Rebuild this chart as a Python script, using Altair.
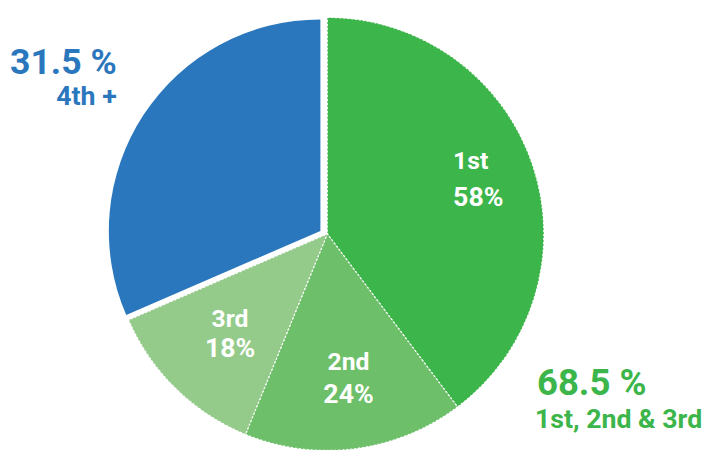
import math
import altair as alt
import pandas as pd

# ---- data ----
segments = ["1st", "2nd", "3rd", "4th +"]
top3_total = 68.5          # % of all (1st, 2nd & 3rd)
rest_total = 31.5          # % of all (4th +)
top3_pct = [58, 24, 18]    # split of the 68.5 % group
ann_values = [rest_total, top3_total]
ann_sub = ["4th +", "1st, 2nd & 3rd"]

share = [top3_total * p / 100 for p in top3_pct] + [rest_total]
df = pd.DataFrame({
    "segment": segments,
    "share": share,
    "group": ["top3", "top3", "top3", "rest"],
    "order": [0, 1, 2, 3],
    "pct": [f"{p}%" for p in top3_pct] + [""],
})

# ---- style ----
colors = ["#3cb54a", "#6dbf69", "#94cb8b", "#2b77bd"]
BLUE, GREEN = "#2b77bd", "#3cb54a"
FONT = "Roboto"
GC = (323, 226)   # centre of green part
BC = (316, 223)   # centre of exploded blue slice

theta_scale = alt.Scale(domain=[0, 100], range=[0, 2 * math.pi])
color = alt.Color("segment:N", scale=alt.Scale(domain=segments, range=colors), legend=None)

base = (
    alt.Chart(df)
    .transform_window(s1="sum(share)", sort=[alt.SortField("order")], frame=[None, 0])
    .transform_calculate(s0="datum.s1 - datum.share", mid="datum.s1 - datum.share / 2")
)

green = base.transform_filter("datum.group == 'top3'").mark_arc(
    radius=219, stroke="white", strokeWidth=1.2, strokeDash=[2, 2]
).encode(
    theta=alt.Theta("s0:Q", scale=theta_scale, stack=None),
    theta2="s1:Q",
    color=color,
    x=alt.value(GC[0]), y=alt.value(GC[1]),
)

blue = base.transform_filter("datum.group == 'rest'").mark_arc(radius=214).encode(
    theta=alt.Theta("s0:Q", scale=theta_scale, stack=None),
    theta2="s1:Q",
    color=color,
    x=alt.value(BC[0]), y=alt.value(BC[1]),
)

# inner label layout: radius, dx, dy name, dy pct, align
layout = {
    "1st": (131, 3, -24, 13, "left"),
    "2nd": (136, 4, 3, 36, "center"),
    "3rd": (142, 1, -7, 23, "center"),
}
labels = []
for seg, (r, dx, dyn, dyp, al) in layout.items():
    for field, dy, fs in (("segment", dyn, 25), ("pct", dyp, 27)):
        labels.append(
            base.transform_filter(f"datum.segment == '{seg}'").mark_text(
                radius=r, dx=dx, dy=dy, align=al, baseline="alphabetic",
                font=FONT, fontSize=fs, fontWeight="bold", color="white",
            ).encode(
                theta=alt.Theta("mid:Q", scale=theta_scale, stack=None),
                text=f"{field}:N",
                x=alt.value(GC[0]), y=alt.value(GC[1]),
            )
        )

ann = pd.DataFrame({"big": [f"{v} %" for v in ann_values], "sub": ann_sub, "i": [0, 1]})
annc = alt.Chart(ann)
ann_layers = [
    annc.transform_filter("datum.i == 0").mark_text(
        align="right", baseline="alphabetic", font=FONT, fontSize=36, fontWeight="bold", color=BLUE
    ).encode(text="big:N", x=alt.value(110), y=alt.value(64)),
    annc.transform_filter("datum.i == 0").mark_text(
        align="right", baseline="alphabetic", font=FONT, fontSize=27, fontWeight="bold", color=BLUE
    ).encode(text="sub:N", x=alt.value(110), y=alt.value(96)),
    annc.transform_filter("datum.i == 1").mark_text(
        align="left", baseline="alphabetic", font=FONT, fontSize=37, fontWeight="bold", color=GREEN
    ).encode(text="big:N", x=alt.value(535), y=alt.value(389)),
    annc.transform_filter("datum.i == 1").mark_text(
        align="left", baseline="alphabetic", font=FONT, fontSize=27, fontWeight="bold", color=GREEN
    ).encode(text="sub:N", x=alt.value(533), y=alt.value(422)),
]

chart = alt.layer(green, blue, *labels, *ann_layers).properties(
    width=702, height=442, padding=0, autosize=alt.AutoSizeParams(type="none"),
    background="white",
).configure_view(strokeWidth=0)

chart.save("out.html", embed_options={"renderer": "svg", "actions": False})
